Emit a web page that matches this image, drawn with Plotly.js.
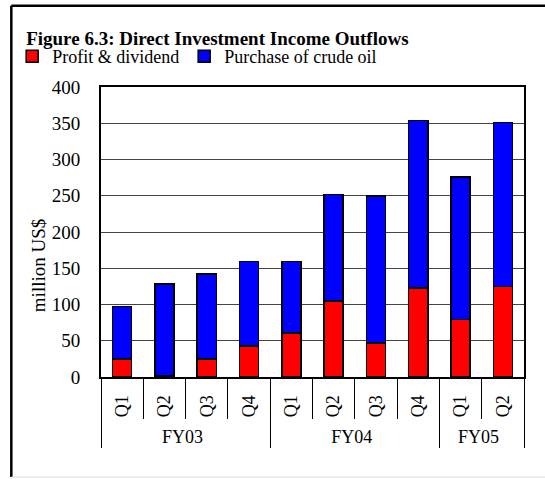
<!DOCTYPE html>
<html>
<head>
<meta charset="utf-8">
<script src="https://cdn.plot.ly/plotly-3.0.1.min.js"></script>
<style>
  body { margin: 0; background: #fff; }
  #plotArea { width: 545px; height: 479px; }
</style>
</head>
<body>
<div id="plotArea"></div>
<script>
// fiscal years and quarters (two level axis)
var years = ["FY03", "FY03", "FY03", "FY03", "FY04", "FY04", "FY04", "FY04", "FY05", "FY05"];
var quarters = ["Q1", "Q2", "Q3", "Q4", "Q1", "Q2", "Q3", "Q4", "Q1", "Q2"];

// million US$
var profit = [25, 2, 25, 43, 61, 105, 47, 123, 79, 125];
var crudeOil = [72, 126, 117, 116, 98, 147, 203, 231, 197, 226];

var serif = "Liberation Serif";

var trace = [{
    x: [years, quarters],
    y: profit,
    name: "Profit & dividend",
    type: "bar",
    marker: {color: "#ff0000", line: {color: "#000", width: 1.5}}
}, {
    x: [years, quarters],
    y: crudeOil,
    name: "Purchase of crude oil",
    type: "bar",
    marker: {color: "#0000ff", line: {color: "#000", width: 1.5}}
}];

// outer frame: black top and left edge, faint bottom edge
function frameLine(x0, y0, x1, y1, color, width) {
    return {type: "line", xref: "paper", yref: "paper",
        x0: x0, y0: y0, x1: x1, y1: y1, line: {color: color, width: width}};
}

var layout = {
    width: 545,
    height: 479,
    barmode: "stack",
    bargap: 0.55,
    paper_bgcolor: "#fff",
    plot_bgcolor: "#fff",
    font: {family: serif, size: 18, color: "#000"},
    margin: {l: 101, r: 21, t: 87, b: 102},
    title: {
        text: "<b>Figure 6.3: Direct Investment Income Outflows</b>",
        font: {family: serif, size: 19, color: "#000"},
        x: 0.048, xanchor: "left", y: 0.92, yanchor: "middle"
    },
    showlegend: true,
    legend: {
        orientation: "h",
        x: -0.21, xanchor: "left",
        y: 1.105, yanchor: "middle",
        font: {family: serif, size: 18},
        itemwidth: 30,
        tracegroupgap: 0,
        traceorder: "normal",
        bgcolor: "rgba(0,0,0,0)"
    },
    xaxis: {
        type: "multicategory",
        tickangle: -90,
        ticks: "outside",
        tickson: "boundaries",
        ticklen: 40,
        tickcolor: "#000",
        ticklabelstandoff: 9,
        showline: true,
        linecolor: "#000",
        linewidth: 2,
        mirror: true,
        showdividers: true,
        dividercolor: "#000",
        dividerwidth: 1,
        tickfont: {family: serif, size: 18}
    },
    yaxis: {
        range: [0, 400],
        dtick: 50,
        showgrid: true,
        gridcolor: "#444",
        gridwidth: 1,
        showline: true,
        linecolor: "#000",
        linewidth: 2,
        mirror: true,
        ticks: "",
        ticklabelstandoff: 15,
        tickfont: {family: serif, size: 19},
        zeroline: false
    },
    annotations: [{
        text: "million US$",
        xref: "paper", yref: "paper",
        x: -0.147, y: 0.385,
        xanchor: "center", yanchor: "middle",
        textangle: -90,
        showarrow: false,
        font: {family: serif, size: 19}
    }],
    shapes: [
        frameLine(-0.212, 1.28, 1.1, 1.28, "#000", 2.5),
        frameLine(-0.212, 1.28, -0.212, -0.345, "#000", 2.5),
        frameLine(-0.212, -0.345, 1.1, -0.345, "#ddd", 1)
    ]
};

Plotly.newPlot("plotArea", trace, layout, {displayModeBar: false});
</script>
</body>
</html>
